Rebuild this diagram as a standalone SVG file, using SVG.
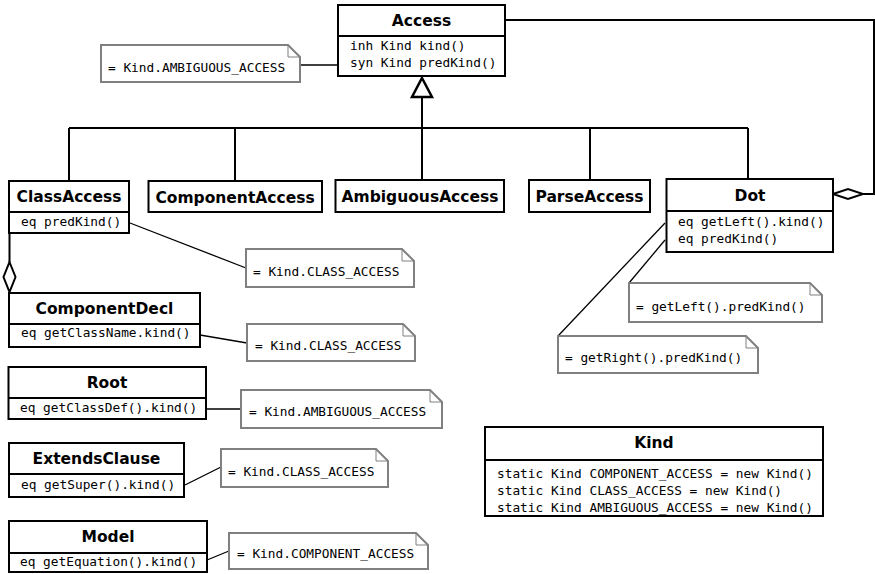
<svg xmlns="http://www.w3.org/2000/svg" width="875" height="574" viewBox="0 0 875 574">
<style>
.box{fill:#fff;stroke:#000;stroke-width:2}
.sep{stroke:#000;stroke-width:2}
.t{font-family:"DejaVu Sans",sans-serif;font-weight:bold;font-size:15.5px;text-anchor:middle;fill:#000}
.a{font-family:"DejaVu Sans Mono",monospace;font-size:12.8px;fill:#000}
.note{fill:#fff;stroke:#808080;stroke-width:2}
.fold{fill:none;stroke:#808080;stroke-width:1}
.gen{fill:none;stroke:#000;stroke-width:2}
.lnk{fill:none;stroke:#000;stroke-width:1.3}
</style>
<rect width="875" height="574" fill="#fff"/>
<g id="connectors">
<path class="gen" d="M422,97 V128 M69,128 H748 M69,128 V181 M235,128 V181 M422,128 V180 M590,128 V180 M748,128 V179"/>
<path d="M422,78 L432,97 L412,97 Z" fill="#fff" stroke="#000" stroke-width="2.5"/>
<path class="gen" d="M505,20 H874 V194 H863"/>
<path d="M833,194 L848,189 L863,194 L848,199 Z" fill="#fff" stroke="#000" stroke-width="2"/>
<path class="gen" d="M9.5,233 V262"/>
<path d="M9.5,262 L15.5,277 L9.5,292 L3.5,277 Z" fill="#fff" stroke="#000" stroke-width="2"/>
<path class="lnk" d="M300,65 H338"/>
<path class="lnk" d="M130,223 L246,268"/>
<path class="lnk" d="M200,335 L247,343"/>
<path class="lnk" d="M207,409 L241,409"/>
<path class="lnk" d="M185,485 L221,467"/>
<path class="lnk" d="M207,560 L229,551"/>
<path class="lnk" d="M665,240 L629,283"/>
<path class="lnk" d="M665,223 L558,336"/>
</g>
<g id="Access">
<rect class="box" x="338" y="5" width="167" height="71"/>
<line class="sep" x1="338" y1="36" x2="505" y2="36"/>
<text class="t" x="421.5" y="26">Access</text>
<text class="a" x="350" y="50">inh Kind kind()</text>
<text class="a" x="350" y="67">syn Kind predKind()</text>
</g>
<g id="ClassAccess">
<rect class="box" x="9" y="181" width="120" height="52"/>
<line class="sep" x1="9" y1="212" x2="129" y2="212"/>
<text class="t" x="69" y="202">ClassAccess</text>
<text class="a" x="21" y="226">eq predKind()</text>
</g>
<g id="ComponentAccess">
<rect class="box" x="148.5" y="181" width="173.5" height="31"/>
<text class="t" x="235" y="203">ComponentAccess</text>
</g>
<g id="AmbiguousAccess">
<rect class="box" x="335.5" y="180" width="168.5" height="32"/>
<text class="t" x="420" y="202">AmbiguousAccess</text>
</g>
<g id="ParseAccess">
<rect class="box" x="529" y="180" width="121" height="32"/>
<text class="t" x="589.5" y="202">ParseAccess</text>
</g>
<g id="Dot">
<rect class="box" x="666.5" y="179" width="166.5" height="73"/>
<line class="sep" x1="666.5" y1="211" x2="833" y2="211"/>
<text class="t" x="750" y="201">Dot</text>
<text class="a" x="678" y="226">eq getLeft().kind()</text>
<text class="a" x="678" y="243">eq predKind()</text>
</g>
<g id="ComponentDecl">
<rect class="box" x="9" y="293" width="191" height="54"/>
<line class="sep" x1="9" y1="324" x2="200" y2="324"/>
<text class="t" x="104.5" y="314">ComponentDecl</text>
<text class="a" x="21" y="337">eq getClassName.kind()</text>
</g>
<g id="Root">
<rect class="box" x="8.5" y="367" width="197.5" height="52"/>
<line class="sep" x1="8.5" y1="398" x2="206" y2="398"/>
<text class="t" x="107" y="388">Root</text>
<text class="a" x="20" y="412">eq getClassDef().kind()</text>
</g>
<g id="ExtendsClause">
<rect class="box" x="9" y="443" width="175" height="54"/>
<line class="sep" x1="9" y1="474" x2="184" y2="474"/>
<text class="t" x="96.5" y="464">ExtendsClause</text>
<text class="a" x="21" y="489">eq getSuper().kind()</text>
</g>
<g id="Model">
<rect class="box" x="9" y="521" width="198" height="51"/>
<line class="sep" x1="9" y1="553" x2="207" y2="553"/>
<text class="t" x="108" y="542">Model</text>
<text class="a" x="20" y="566">eq getEquation().kind()</text>
</g>
<g id="Kind">
<rect class="box" x="485" y="427" width="338" height="89"/>
<line class="sep" x1="485" y1="460" x2="823" y2="460"/>
<text class="t" x="654" y="448">Kind</text>
<text class="a" x="497" y="478">static Kind COMPONENT_ACCESS = new Kind()</text>
<text class="a" x="497" y="495">static Kind CLASS_ACCESS = new Kind()</text>
<text class="a" x="497" y="512">static Kind AMBIGUOUS_ACCESS = new Kind()</text>
<line x1="485" y1="516" x2="823" y2="516" stroke="#000" stroke-width="2"/>
</g>
<g id="note-access">
<path class="note" d="M101,45 H288 L300,57 V82 H101 Z"/>
<path class="fold" d="M288,45 V57 H300"/>
<text class="a" x="108" y="72">= Kind.AMBIGUOUS_ACCESS</text>
</g>
<g id="note-classaccess">
<path class="note" d="M246,249 H402 L414,261 V287 H246 Z"/>
<path class="fold" d="M402,249 V261 H414"/>
<text class="a" x="253" y="276">= Kind.CLASS_ACCESS</text>
</g>
<g id="note-componentdecl">
<path class="note" d="M247,324 H403 L415,336 V361 H247 Z"/>
<path class="fold" d="M403,324 V336 H415"/>
<text class="a" x="255" y="350">= Kind.CLASS_ACCESS</text>
</g>
<g id="note-root">
<path class="note" d="M241,390 H430 L442,402 V428 H241 Z"/>
<path class="fold" d="M430,390 V402 H442"/>
<text class="a" x="249" y="416">= Kind.AMBIGUOUS_ACCESS</text>
</g>
<g id="note-extends">
<path class="note" d="M221,449 H376 L388,461 V487 H221 Z"/>
<path class="fold" d="M376,449 V461 H388"/>
<text class="a" x="228" y="476">= Kind.CLASS_ACCESS</text>
</g>
<g id="note-model">
<path class="note" d="M229,533 H416 L428,545 V569 H229 Z"/>
<path class="fold" d="M416,533 V545 H428"/>
<text class="a" x="237" y="558">= Kind.COMPONENT_ACCESS</text>
</g>
<g id="note-getleft">
<path class="note" d="M629,283 H810 L822,295 V322 H629 Z"/>
<path class="fold" d="M810,283 V295 H822"/>
<text class="a" x="636" y="311">= getLeft().predKind()</text>
</g>
<g id="note-getright">
<path class="note" d="M558,336 H746 L758,348 V373 H558 Z"/>
<path class="fold" d="M746,336 V348 H758"/>
<text class="a" x="565" y="362">= getRight().predKind()</text>
</g>
</svg>
